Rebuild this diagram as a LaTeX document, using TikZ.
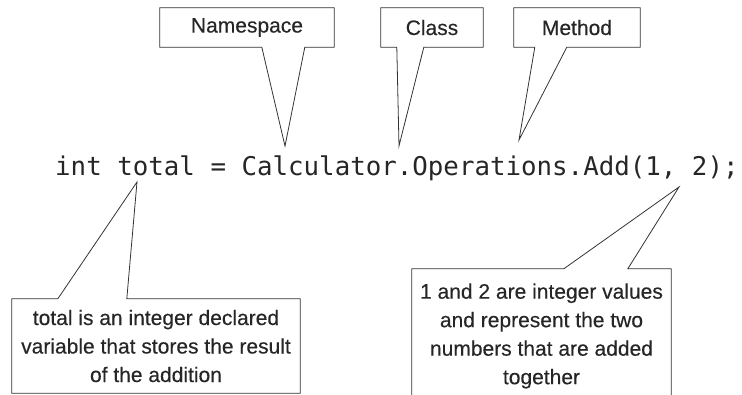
\documentclass[tikz,border=0pt]{standalone}
\usepackage{fontspec}
\setmainfont{Liberation Sans}
\setmonofont{DejaVu Sans Mono}
\newfontfamily\calloutfont{Liberation Sans}[FakeBold=0.3]
\usetikzlibrary{calc}

\begin{document}
\begin{tikzpicture}[x=1pt, y=-1pt]
    % Define styles
    \tikzstyle{boxtext} = [inner sep=0pt, text=black!85, align=center, font=\calloutfont\fontsize{21}{28.5}\selectfont]
    \tikzstyle{boxline} = [draw=black!80, line width=0.8pt, line join=miter]
    \useasboundingbox (0,0) rectangle (742,394);

    % Code line
    \node [anchor=base west, inner sep=0pt, text=black!85, font=\ttfamily\fontsize{25.8}{30}\selectfont] (code) at (55,175) {int total = Calculator.Operations.Add(1, 2);};

    % Pointer tips
    \coordinate (nsTip) at (285,146);
    \coordinate (clsTip) at (399,146);
    \coordinate (mthTip) at (519,140);
    \coordinate (totTip) at (137,182);
    \coordinate (argsTip) at (679,187);

    % Labels
    \node [boxtext, minimum width=174pt, minimum height=39pt] (ns) at (247,27.5) {Namespace};
    \node [boxtext, minimum width=102pt, minimum height=39pt] (cls) at (432,27.5) {Class};
    \node [boxtext, minimum width=126pt, minimum height=39pt] (mth) at (577,27.5) {Method};
    \node [boxtext, minimum width=288pt, minimum height=94pt] (tot) at (156,346) {total is an integer declared\\variable that stores the result\\of the addition};
    \node [boxtext, minimum width=259pt, minimum height=134pt] (args) at (541.5,336) {1 and 2 are integer values\\and represent the two\\numbers that are added\\together};

    % Callout outlines
    \draw [boxline] ($(ns.south west)+(102,0)$) -- (nsTip) -- ($(ns.south west)+(145,0)$) -- (ns.south east) -- (ns.north east) -- (ns.north west) -- (ns.south west) -- cycle;
    \draw [boxline] ($(cls.south west)+(16,0)$) -- (clsTip) -- ($(cls.south west)+(43,0)$) -- (cls.south east) -- (cls.north east) -- (cls.north west) -- (cls.south west) -- cycle;
    \draw [boxline] ($(mth.south west)+(21,0)$) -- (mthTip) -- ($(mth.south west)+(53,0)$) -- (mth.south east) -- (mth.north east) -- (mth.north west) -- (mth.south west) -- cycle;
    \draw [boxline] ($(tot.north west)+(46,0)$) -- (totTip) -- ($(tot.north west)+(115,0)$) -- (tot.north east) -- (tot.south east) -- (tot.south west) -- (tot.north west) -- cycle;
    \draw [boxline] (args.south west) -- (args.north west) -- ($(args.north west)+(152,0)$) -- (argsTip) -- ($(args.north west)+(216,0)$) -- (args.north east) -- (args.south east);
\end{tikzpicture}
\end{document}
